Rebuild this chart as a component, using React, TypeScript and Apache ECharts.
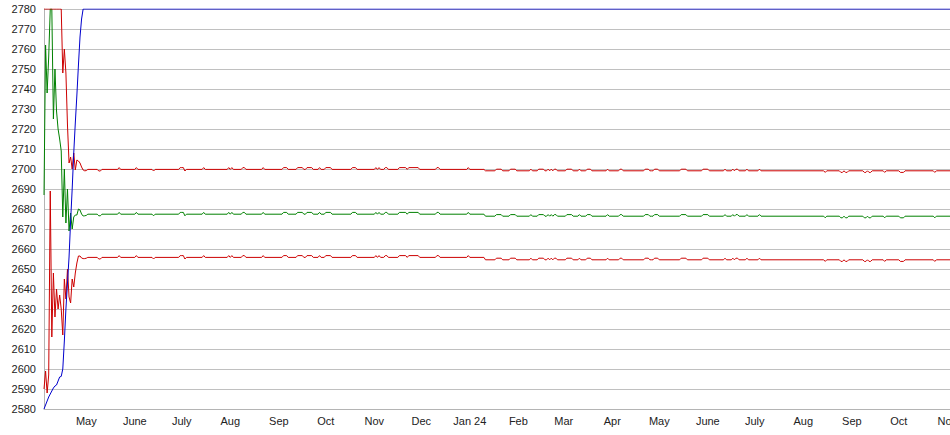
import React, { useEffect, useRef } from "react";
import * as echarts from "echarts";

const DAY = 86400000;
const START = new Date(2023, 3, 4).getTime();
const SPAN_DAYS = 578.7;

const monthNames = ["Jan", "Feb", "Mar", "Apr", "May", "June", "July", "Aug", "Sep", "Oct", "Nov", "Dec"];
const yTicks = { min: 2580, max: 2780, step: 10 };

// day offsets from START shared by the three band lines
const bandDays = [
  0, 1, 2, 3, 4, 5, 6, 7, 8, 9, 10, 11, 12, 13, 14, 15, 16, 17, 18, 19, 20, 21, 22, 23, 24, 25, 26, 27, 28,
  34, 35, 36, 37,
  47, 48, 49,
  58, 59, 60,
  69, 70, 71,
  86, 87, 88, 89, 90, 91,
  101, 102, 103,
  117, 118, 119, 120, 121,
  126, 127, 128, 129,
  139, 140, 141,
  152, 153, 155, 156,
  161, 162, 165, 166,
  167, 168, 171, 172,
  175, 176, 177,
  179, 180, 183, 184,
  196, 197, 199, 200,
  211, 212, 213, 214, 215, 217, 218, 219, 220,
  226, 227, 231, 232, 233, 239, 240,
  250, 251, 252, 253,
  270, 271, 272,
  281,
  282,
  288, 289, 292, 293,
  297, 298, 301, 302,
  310, 311, 312,
  315, 316, 319, 320, 321, 322, 323, 324, 325, 326, 327, 328,
  333, 334, 337, 338,
  341, 342, 343,
  346, 347, 349, 350,
  359, 360, 361,
  367, 368, 369, 370,
  383, 384, 386, 387, 388, 389, 390, 392, 393,
  406, 407, 410, 411,
  420, 421, 424, 425,
  434, 435, 436,
  439, 440, 441, 442, 443, 444,
  448, 449, 450,
  456, 457, 458,
  498, 499, 500,
  508, 509, 510, 511, 512, 513, 514,
  523, 524, 525, 526, 527, 528, 529,
  536, 537, 538,
  546, 547, 549, 550,
  568, 569, 570,
  579,
];

const upperBand = [
  2780, 2780, 2780, 2780, 2780, 2780, 2780, 2780, 2780, 2780, 2780, 2780, 2748, 2760, 2748, 2722, 2703, 2706, 2700, 2708, 2699.5, 2704.5, 2704, 2703, 2701, 2699.5, 2699.1, 2699.2, 2699.8,
  2699.8, 2699.0, 2699.0, 2699.8,
  2699.8, 2700.7, 2699.8,
  2699.8, 2700.7, 2699.8,
  2699.8, 2699.0, 2699.8,
  2699.8, 2700.7, 2700.7, 2700.7, 2699.0, 2699.8,
  2699.8, 2700.7, 2699.8,
  2699.8, 2700.7, 2699.8, 2700.7, 2699.8,
  2699.8, 2700.7, 2700.7, 2699.8,
  2699.8, 2700.7, 2699.8,
  2699.8, 2700.7, 2700.7, 2699.8,
  2699.8, 2700.7, 2700.7, 2699.8,
  2699.8, 2700.7, 2700.7, 2699.8,
  2699.8, 2700.7, 2699.8,
  2699.8, 2700.7, 2700.7, 2699.8,
  2699.8, 2700.7, 2700.7, 2699.8,
  2699.8, 2700.7, 2699.8, 2700.7, 2699.8, 2699.8, 2700.7, 2700.7, 2699.8,
  2699.8, 2700.7, 2700.7, 2699.8, 2700.7, 2700.7, 2699.8,
  2699.8, 2700.7, 2700.7, 2699.8,
  2699.8, 2700.7, 2699.8,
  2699.8,
  2699.1,
  2699.1, 2699.9, 2699.9, 2699.1,
  2699.1, 2699.9, 2699.9, 2699.1,
  2699.1, 2699.9, 2699.1,
  2699.1, 2699.9, 2699.9, 2699.1, 2699.1, 2699.9, 2699.1, 2699.9, 2699.1, 2699.9, 2699.9, 2699.1,
  2699.1, 2699.9, 2699.9, 2699.1,
  2699.1, 2699.9, 2699.1,
  2699.1, 2699.9, 2699.9, 2699.1,
  2699.1, 2699.9, 2699.1,
  2699.1, 2699.9, 2699.9, 2699.1,
  2699.1, 2699.9, 2699.9, 2699.1, 2699.1, 2699.1, 2699.9, 2699.9, 2699.1,
  2699.1, 2699.9, 2699.9, 2699.1,
  2699.1, 2699.9, 2699.9, 2699.1,
  2699.1, 2699.9, 2699.1,
  2699.1, 2699.9, 2699.1, 2699.9, 2699.9, 2699.1,
  2699.1, 2699.9, 2699.1,
  2699.1, 2699.9, 2699.1,
  2699.1, 2698.3, 2699.1,
  2699.1, 2698.3, 2698.3, 2699.1, 2698.3, 2698.3, 2699.1,
  2699.1, 2698.3, 2698.3, 2699.1, 2698.3, 2698.3, 2699.1,
  2699.1, 2698.3, 2699.1,
  2699.1, 2698.3, 2698.3, 2699.1,
  2699.1, 2698.3, 2699.1,
  2699.1,
];

const middleLine = [
  2687, 2762, 2738, 2756, 2780, 2780, 2725, 2750, 2729, 2720, 2715, 2709, 2676, 2700, 2673, 2690, 2669, 2678, 2670, 2676, 2677, 2677, 2680, 2679.5, 2677.5, 2676.5, 2676.6, 2676.8, 2677.4,
  2677.4, 2676.6, 2676.6, 2677.4,
  2677.4, 2678.3, 2677.4,
  2677.4, 2678.3, 2677.4,
  2677.4, 2676.6, 2677.4,
  2677.4, 2678.3, 2678.3, 2678.3, 2676.6, 2677.4,
  2677.4, 2678.3, 2677.4,
  2677.4, 2678.3, 2677.4, 2678.3, 2677.4,
  2677.4, 2678.3, 2678.3, 2677.4,
  2677.4, 2678.3, 2677.4,
  2677.4, 2678.3, 2678.3, 2677.4,
  2677.4, 2678.3, 2678.3, 2677.4,
  2677.4, 2678.3, 2678.3, 2677.4,
  2677.4, 2678.3, 2677.4,
  2677.4, 2678.3, 2678.3, 2677.4,
  2677.4, 2678.3, 2678.3, 2677.4,
  2677.4, 2678.3, 2677.4, 2678.3, 2677.4, 2677.4, 2678.3, 2678.3, 2677.4,
  2677.4, 2678.3, 2678.3, 2677.4, 2678.3, 2678.3, 2677.4,
  2677.4, 2678.3, 2678.3, 2677.4,
  2677.4, 2678.3, 2677.4,
  2677.4,
  2676.4,
  2676.4, 2677.2, 2677.2, 2676.4,
  2676.4, 2677.2, 2677.2, 2676.4,
  2676.4, 2677.2, 2676.4,
  2676.4, 2677.2, 2677.2, 2676.4, 2676.4, 2677.2, 2676.4, 2677.2, 2676.4, 2677.2, 2677.2, 2676.4,
  2676.4, 2677.2, 2677.2, 2676.4,
  2676.4, 2677.2, 2676.4,
  2676.4, 2677.2, 2677.2, 2676.4,
  2676.4, 2677.2, 2676.4,
  2676.4, 2677.2, 2677.2, 2676.4,
  2676.4, 2677.2, 2677.2, 2676.4, 2676.4, 2676.4, 2677.2, 2677.2, 2676.4,
  2676.4, 2677.2, 2677.2, 2676.4,
  2676.4, 2677.2, 2677.2, 2676.4,
  2676.4, 2677.2, 2676.4,
  2676.4, 2677.2, 2676.4, 2677.2, 2677.2, 2676.4,
  2676.4, 2677.2, 2676.4,
  2676.4, 2677.2, 2676.4,
  2676.4, 2675.6, 2676.4,
  2676.4, 2675.6, 2675.6, 2676.4, 2675.6, 2675.6, 2676.4,
  2676.4, 2675.6, 2675.6, 2676.4, 2675.6, 2675.6, 2676.4,
  2676.4, 2675.6, 2676.4,
  2676.4, 2675.6, 2675.6, 2676.4,
  2676.4, 2675.6, 2676.4,
  2676.4,
];

const lowerBand = [
  2590, 2599, 2588, 2597, 2689, 2616, 2648, 2626, 2640, 2630, 2637, 2630, 2617, 2645, 2635, 2650, 2636, 2633, 2645, 2641, 2648, 2653, 2656.5, 2656.5, 2655.5, 2655.2, 2655.2, 2655.4, 2655.8,
  2655.8, 2655.0, 2655.0, 2655.8,
  2655.8, 2656.7, 2655.8,
  2655.8, 2656.7, 2655.8,
  2655.8, 2655.0, 2655.8,
  2655.8, 2656.7, 2656.7, 2656.7, 2655.0, 2655.8,
  2655.8, 2656.7, 2655.8,
  2655.8, 2656.7, 2655.8, 2656.7, 2655.8,
  2655.8, 2656.7, 2656.7, 2655.8,
  2655.8, 2656.7, 2655.8,
  2655.8, 2656.7, 2656.7, 2655.8,
  2655.8, 2656.7, 2656.7, 2655.8,
  2655.8, 2656.7, 2656.7, 2655.8,
  2655.8, 2656.7, 2655.8,
  2655.8, 2656.7, 2656.7, 2655.8,
  2655.8, 2656.7, 2656.7, 2655.8,
  2655.8, 2656.7, 2655.8, 2656.7, 2655.8, 2655.8, 2656.7, 2656.7, 2655.8,
  2655.8, 2656.7, 2656.7, 2655.8, 2656.7, 2656.7, 2655.8,
  2655.8, 2656.7, 2656.7, 2655.8,
  2655.8, 2656.7, 2655.8,
  2655.8,
  2654.6,
  2654.6, 2655.4, 2655.4, 2654.6,
  2654.6, 2655.4, 2655.4, 2654.6,
  2654.6, 2655.4, 2654.6,
  2654.6, 2655.4, 2655.4, 2654.6, 2654.6, 2655.4, 2654.6, 2655.4, 2654.6, 2655.4, 2655.4, 2654.6,
  2654.6, 2655.4, 2655.4, 2654.6,
  2654.6, 2655.4, 2654.6,
  2654.6, 2655.4, 2655.4, 2654.6,
  2654.6, 2655.4, 2654.6,
  2654.6, 2655.4, 2655.4, 2654.6,
  2654.6, 2655.4, 2655.4, 2654.6, 2654.6, 2654.6, 2655.4, 2655.4, 2654.6,
  2654.6, 2655.4, 2655.4, 2654.6,
  2654.6, 2655.4, 2655.4, 2654.6,
  2654.6, 2655.4, 2654.6,
  2654.6, 2655.4, 2654.6, 2655.4, 2655.4, 2654.6,
  2654.6, 2655.4, 2654.6,
  2654.6, 2655.4, 2654.6,
  2654.6, 2653.8, 2654.6,
  2654.6, 2653.8, 2653.8, 2654.6, 2653.8, 2653.8, 2654.6,
  2654.6, 2653.8, 2653.8, 2654.6, 2653.8, 2653.8, 2654.6,
  2654.6, 2653.8, 2654.6,
  2654.6, 2653.8, 2653.8, 2654.6,
  2654.6, 2653.8, 2654.6,
  2654.6,
];

const blueDays = [0, 1, 2, 3, 4, 5, 6, 7, 8, 9, 10, 11, 12, 13, 14, 15, 16, 17, 18, 19, 20, 21, 22, 23, 24, 25, 579];
const blueLine = [
  2580, 2582, 2584, 2586, 2587.5, 2589, 2590.5, 2591.5, 2592, 2594, 2596, 2596.3, 2600, 2614, 2630, 2643, 2656,
  2674, 2690, 2708, 2723, 2737, 2752, 2766, 2775, 2780, 2780,
];

const FONT = "'Liberation Sans', Arial, sans-serif";

function pairs(days: number[], vals: number[]) {
  return days.map((d, i) => [START + d * DAY, vals[i]]);
}

export default function App() {
  const ref = useRef<HTMLDivElement>(null);
  useEffect(() => {
    if (!ref.current) return;
    const chart = echarts.init(ref.current, null, { renderer: "svg" });
    const lineSeries = (name: string, color: string, data: any[]) => ({
      name,
      type: "line",
      data,
      showSymbol: false,
      symbol: "none",
      silent: true,
      lineStyle: { width: 1, color },
      itemStyle: { color },
    });
    chart.setOption({
      animation: false,
      backgroundColor: "#ffffff",
      grid: { left: 44, right: 0, top: 9, bottom: 26, containLabel: false, outerBoundsMode: "none" },
      xAxis: {
        type: "time",
        min: START,
        max: START + SPAN_DAYS * DAY,
        splitNumber: 19,
        minInterval: 28 * DAY,
        maxInterval: 31 * DAY,
        axisLine: { show: true, lineStyle: { color: "#b4b4b4", width: 1 } },
        axisTick: { show: false },
        splitLine: { show: false },
        axisLabel: {
          color: "#222222",
          fontSize: 11,
          fontFamily: FONT,
          margin: 6,
          hideOverlap: false,
          formatter: (v: number) => {
            const d = new Date(v);
            const m = d.getMonth();
            return m === 0 ? "Jan " + String(d.getFullYear()).slice(2) : monthNames[m];
          },
        },
      },
      yAxis: {
        type: "value",
        min: yTicks.min,
        max: yTicks.max,
        interval: yTicks.step,
        axisLine: { show: true, lineStyle: { color: "#b4b4b4", width: 1 } },
        axisTick: { show: false },
        splitLine: { show: true, lineStyle: { color: "#c0c0c0", width: 1 } },
        axisLabel: {
          color: "#222222",
          fontSize: 11,
          fontFamily: FONT,
          margin: 8,
          formatter: (v: number) => String(v),
        },
      },
      series: [
        lineSeries("Lower", "#cc0000", pairs(bandDays, lowerBand)),
        lineSeries("Middle", "#008000", pairs(bandDays, middleLine)),
        lineSeries("Upper", "#cc0000", pairs(bandDays, upperBand)),
        lineSeries("Blue", "#0000cc", pairs(blueDays, blueLine)),
      ],
    });
    return () => chart.dispose();
  }, []);
  return (
    <div
      ref={ref}
      style={{ position: "fixed", left: 0, top: 0, width: 950, height: 435, background: "#fff" }}
    />
  );
}
